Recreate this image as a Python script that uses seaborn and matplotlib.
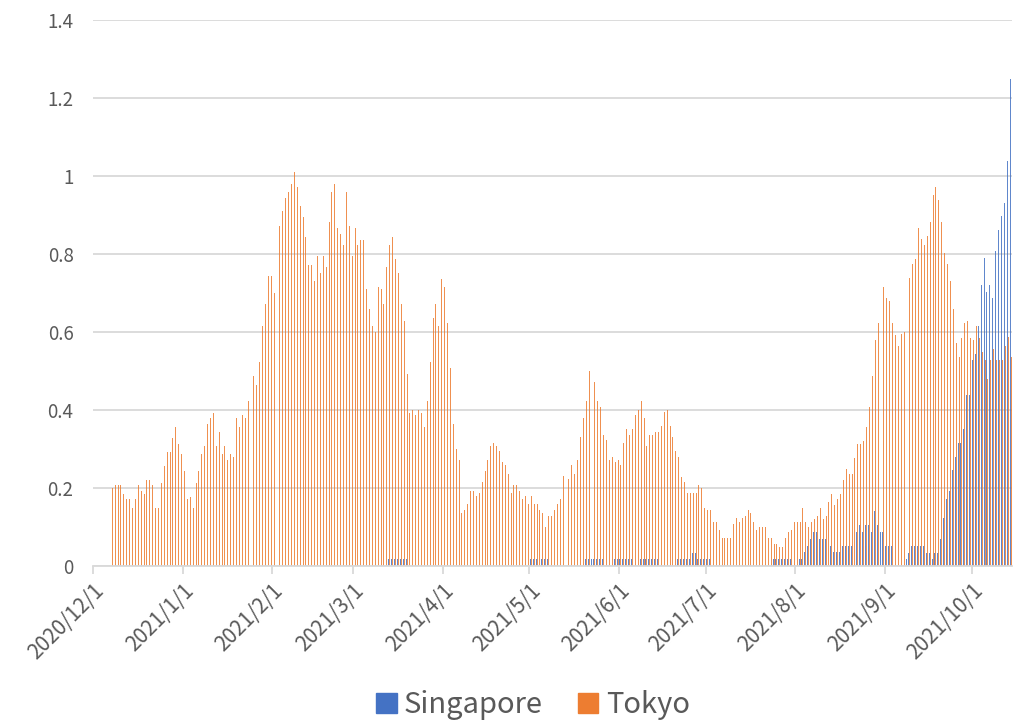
import numpy as np
import pandas as pd
import matplotlib
matplotlib.use("Agg")
import matplotlib.pyplot as plt
import matplotlib.patches as mpatches
import seaborn as sns

# ---------------- data ----------------
start_date = "2020-12-07"          # first daily bar
axis_origin = "2020-12-01"         # left edge of the date axis
axis_end = "2021-10-15"            # right edge of the date axis

tokyo = [
    0.200, 0.207, 0.207, 0.207, 0.185, 0.171, 0.171, 0.149, 0.171, 0.207,
    0.192, 0.185, 0.221, 0.221, 0.207, 0.149, 0.149, 0.214, 0.257, 0.292,
    0.292, 0.328, 0.357, 0.314, 0.286, 0.243, 0.171, 0.178, 0.149, 0.214,
    0.243, 0.286, 0.308, 0.364, 0.379, 0.393, 0.308, 0.344, 0.286, 0.308,
    0.272, 0.286, 0.279, 0.379, 0.357, 0.386, 0.379, 0.422, 0.408, 0.486,
    0.464, 0.522, 0.616, 0.672, 0.744, 0.744, 0.701, 0.773, 0.872,
    0.909, 0.944, 0.959, 0.980, 1.009, 0.973, 0.923, 0.894, 0.844, 0.773,
    0.773, 0.730, 0.794, 0.751, 0.794, 0.766, 0.881, 0.959, 0.980, 0.866,
    0.852, 0.823, 0.959, 0.873, 0.794, 0.866, 0.823, 0.837, 0.837, 0.709,
    0.658, 0.616, 0.601, 0.716, 0.709, 0.673, 0.766, 0.823, 0.844, 0.788,
    0.751, 0.673, 0.629, 0.493, 0.392, 0.400, 0.386, 0.400, 0.392, 0.357,
    0.422, 0.522, 0.637, 0.673, 0.616, 0.737, 0.716, 0.622, 0.507,
    0.365, 0.301, 0.272, 0.137, 0.144, 0.159, 0.193, 0.193, 0.180, 0.186,
    0.215, 0.243, 0.272, 0.308, 0.315, 0.308, 0.294, 0.266, 0.258, 0.236,
    0.186, 0.208, 0.208, 0.193, 0.172, 0.180, 0.158, 0.180, 0.158, 0.158,
    0.144, 0.137, 0.101, 0.129, 0.129, 0.144, 0.158, 0.172, 0.230, 0.251,
    0.222, 0.258, 0.236, 0.272, 0.330, 0.380, 0.422, 0.501, 0.458, 0.473,
    0.422, 0.408, 0.337, 0.322, 0.272, 0.279, 0.266, 0.272,
    0.258, 0.315, 0.351, 0.337, 0.351, 0.386, 0.401, 0.422, 0.379, 0.308,
    0.337, 0.337, 0.343, 0.343, 0.358, 0.394, 0.401, 0.358, 0.330, 0.294,
    0.279, 0.229, 0.215, 0.186, 0.186, 0.186, 0.186, 0.208, 0.200, 0.150,
    0.143, 0.143, 0.114, 0.114, 0.093, 0.071, 0.071, 0.071, 0.071, 0.107,
    0.122, 0.114, 0.122, 0.129, 0.143, 0.136, 0.114, 0.093, 0.100, 0.100,
    0.100, 0.071, 0.071, 0.057, 0.057, 0.050, 0.050, 0.071, 0.086, 0.093,
    0.114, 0.114,
    0.113, 0.149, 0.113, 0.099, 0.113, 0.121, 0.128, 0.149, 0.121, 0.128,
    0.164, 0.185, 0.157, 0.171, 0.185, 0.221, 0.250, 0.236, 0.236, 0.278,
    0.314, 0.314, 0.321, 0.357, 0.407, 0.486, 0.579, 0.622, 0.673, 0.716,
    0.686, 0.680, 0.622, 0.593, 0.565,
    0.594, 0.601, 0.673, 0.738, 0.774, 0.788, 0.866, 0.838, 0.823, 0.845,
    0.881, 0.952, 0.973, 0.938, 0.881, 0.802, 0.774, 0.731, 0.658, 0.572,
    0.536, 0.585, 0.622, 0.629, 0.585, 0.579, 0.616, 0.585, 0.550, 0.529,
    0.479, 0.529, 0.557, 0.529, 0.529, 0.529, 0.565, 0.586, 0.536,
]

singapore = [
    0, 0, 0, 0, 0, 0, 0, 0, 0, 0,
    0, 0, 0, 0, 0, 0, 0, 0, 0, 0,
    0, 0, 0, 0, 0, 0, 0, 0, 0, 0,
    0, 0, 0, 0, 0, 0, 0, 0, 0, 0,
    0, 0, 0, 0, 0, 0, 0, 0, 0, 0,
    0, 0, 0, 0, 0, 0, 0, 0, 0, 0,
    0, 0, 0, 0, 0, 0, 0, 0, 0, 0,
    0, 0, 0, 0, 0, 0, 0, 0, 0, 0,
    0, 0, 0, 0, 0, 0, 0, 0, 0, 0,
    0, 0, 0, 0, 0, 0, 0.017, 0.017, 0.017, 0.017,
    0.017, 0.017, 0.017, 0, 0, 0, 0, 0, 0, 0,
    0, 0, 0, 0, 0, 0, 0, 0, 0, 0,
    0, 0, 0, 0, 0, 0, 0, 0, 0, 0,
    0, 0, 0, 0, 0, 0, 0, 0, 0, 0,
    0, 0, 0, 0, 0, 0.017, 0.017, 0.017, 0.017, 0.017,
    0.017, 0.017, 0, 0, 0, 0, 0, 0, 0, 0,
    0, 0, 0, 0, 0.017, 0.017, 0.017, 0.017, 0.017, 0.017,
    0.017, 0, 0, 0, 0.017, 0.017, 0.017, 0.017, 0.017, 0.017,
    0.017, 0, 0, 0.017, 0.017, 0.017, 0.017, 0.017, 0.017, 0.017,
    0, 0, 0, 0, 0, 0, 0.017, 0.017, 0.017, 0.017,
    0.017, 0.034, 0.034, 0.017, 0.017, 0.017, 0.017, 0.017, 0, 0,
    0, 0, 0, 0, 0, 0, 0, 0, 0, 0,
    0, 0, 0, 0, 0, 0, 0, 0, 0, 0.017,
    0.017, 0.017, 0.017, 0.017, 0.017, 0.017, 0, 0, 0.017, 0.017,
    0.035, 0.051, 0.069, 0.087, 0.087, 0.069, 0.069, 0.069, 0.051, 0.051,
    0.035, 0.035, 0.035, 0.051, 0.051, 0.051, 0.051, 0.051, 0.087, 0.105,
    0.087, 0.105, 0.105, 0.087, 0.140, 0.105, 0.087, 0.087, 0.051, 0.051,
    0.051, 0, 0, 0, 0, 0.017, 0.034, 0.051, 0.051, 0.051,
    0.051, 0.051, 0.034, 0.034, 0.017, 0.034, 0.034, 0.069, 0.122, 0.173,
    0.192, 0.246, 0.280, 0.315, 0.315, 0.351, 0.439, 0.439, 0.527, 0.544,
    0.615, 0.720, 0.791, 0.703, 0.720, 0.686, 0.808, 0.861, 0.897, 0.932,
    1.038, 1.248,
]

series_names = ["Singapore", "Tokyo"]
series_colors = ["#4472C4", "#ED7D31"]
tick_months = ["2020-12-01", "2021-01-01", "2021-02-01", "2021-03-01",
               "2021-04-01", "2021-05-01", "2021-06-01", "2021-07-01",
               "2021-08-01", "2021-09-01", "2021-10-01"]
tick_labels = ["2020/12/1", "2021/1/1", "2021/2/1", "2021/3/1", "2021/4/1",
               "2021/5/1", "2021/6/1", "2021/7/1", "2021/8/1", "2021/9/1",
               "2021/10/1"]
y_ticks = [0, 0.2, 0.4, 0.6, 0.8, 1.0, 1.2, 1.4]
y_tick_labels = ["0", "0.2", "0.4", "0.6", "0.8", "1", "1.2", "1.4"]

# ---------------- frame ----------------
n = len(tokyo)
origin = pd.Timestamp(axis_origin)
dates = pd.date_range(start_date, periods=n, freq="D")
day_pos = (dates - origin).days.to_numpy() + 0.5   # bar sits in the middle of its day slot

df = pd.DataFrame({
    "day": np.concatenate([day_pos, day_pos]),
    "value": singapore + tokyo,
    "city": [series_names[0]] * n + [series_names[1]] * n,
})

sns.set_theme(style="white")
plt.rcParams["font.family"] = ["Noto Sans CJK JP", "DejaVu Sans"]

text_color = "#595959"
grid_color = "#D9D9D9"

fig = plt.figure(figsize=(10.2, 7.2), dpi=100)
ax = fig.add_axes([93 / 1020, 1 - 566 / 720, (1012 - 93) / 1020, (566 - 20) / 720])

sns.barplot(data=df, x="day", y="value", hue="city", hue_order=series_names,
            palette=series_colors, native_scale=True, dodge=True, width=0.68,
            errorbar=None, linewidth=0, saturation=1, alpha=0.85, ax=ax)
if ax.get_legend() is not None:
    ax.get_legend().remove()

ax.set_xlim(0, (pd.Timestamp(axis_end) - origin).days)
ax.set_ylim(0, 1.4)
ax.set_yticks(y_ticks)
ax.set_yticklabels(y_tick_labels)
tick_pos = [(pd.Timestamp(m) - origin).days for m in tick_months]
ax.set_xticks(tick_pos)
ax.set_xticklabels(tick_labels, rotation=45, ha="right", rotation_mode="anchor")

ax.set_xlabel("")
ax.set_ylabel("")
ax.yaxis.grid(True, color=grid_color, linewidth=1.3)
ax.xaxis.grid(False)
ax.set_axisbelow(True)
for side in ["top", "right", "left"]:
    ax.spines[side].set_visible(False)
ax.spines["bottom"].set_color(grid_color)
ax.spines["bottom"].set_linewidth(1.3)

ax.tick_params(axis="y", length=0, labelsize=13.5, labelcolor=text_color, pad=14)
ax.tick_params(axis="x", bottom=True, length=6, width=1.3, color=grid_color,
               direction="out", labelsize=15, labelcolor=text_color, pad=4)

handles = [mpatches.Patch(color=c, label=s) for s, c in zip(series_names, series_colors)]
fig.legend(handles=handles, loc="center", bbox_to_anchor=(533 / 1020, 1 - 705 / 720),
           ncol=2, frameon=False, fontsize=21, labelcolor=text_color,
           handlelength=0.7, handleheight=0.7, handletextpad=0.25, columnspacing=1.2,
           borderaxespad=0)

fig.savefig("out.png", dpi=100)
